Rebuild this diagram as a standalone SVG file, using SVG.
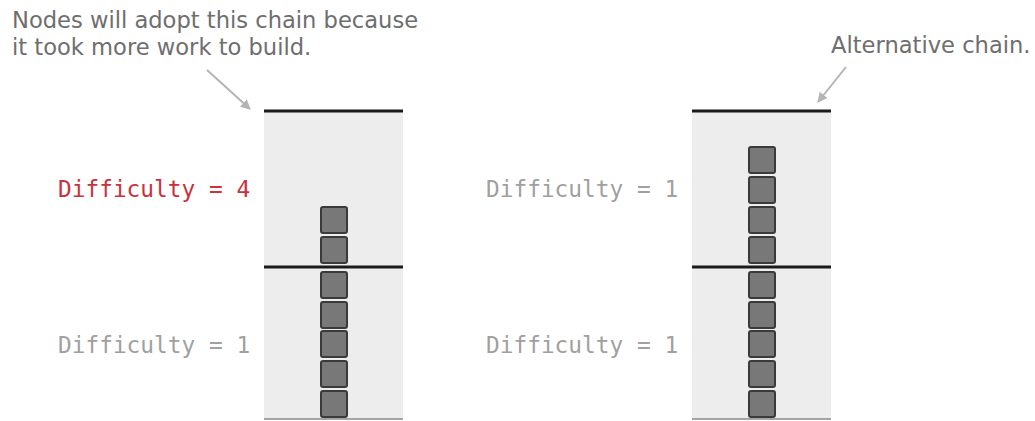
<svg xmlns="http://www.w3.org/2000/svg" width="1035" height="421" viewBox="0 0 1035 421">
  <style>
    .note { font-family: "DejaVu Sans", "Liberation Sans", sans-serif; font-size: 22.6px; fill: #6e6e6e; }
    .diff { font-family: "DejaVu Sans Mono", "Liberation Mono", monospace; font-size: 22.8px; fill: #a0a0a0; }
    .diff.hot { fill: #c8323a; }
    .col { fill: #ededed; }
    .rule { stroke: #1a1a1a; stroke-width: 3; }
    .base { stroke: #8a8a8a; stroke-width: 1.5; }
    .blk { fill: #787878; stroke: #3a3a3a; stroke-width: 2; }
    .ptr { stroke: #b4b4b4; stroke-width: 2; fill: none; }
  </style>
  <defs>
    <marker id="head" viewBox="0 0 10 10" refX="9" refY="5" markerWidth="5" markerHeight="5" orient="auto" markerUnits="strokeWidth">
      <path d="M0,0 L10,5 L0,10 Z" fill="#b4b4b4"/>
    </marker>
    <rect id="block" width="26" height="26" rx="2"/>
  </defs>

  <!-- annotations -->
  <g id="note-main">
    <text class="note" x="12" y="28">Nodes will adopt this chain because</text>
    <text class="note" x="12" y="55">it took more work to build.</text>
  </g>
  <g id="note-alt">
    <text class="note" x="831" y="53">Alternative chain.</text>
  </g>

  <!-- main chain column -->
  <g id="chain-main">
    <rect class="col" x="264" y="111" width="139" height="308"/>
    <line class="rule" x1="264" y1="111" x2="403" y2="111"/>
    <line class="rule" x1="264" y1="267" x2="403" y2="267"/>
    <line class="base" x1="264" y1="419" x2="403" y2="419"/>
    <g class="blk">
      <use href="#block" x="321" y="207"/>
      <use href="#block" x="321" y="237"/>
      <use href="#block" x="321" y="272"/>
      <use href="#block" x="321" y="302"/>
      <use href="#block" x="321" y="331"/>
      <use href="#block" x="321" y="361"/>
      <use href="#block" x="321" y="391"/>
    </g>
  </g>

  <!-- alternative chain column -->
  <g id="chain-alt">
    <rect class="col" x="692" y="111" width="139" height="308"/>
    <line class="rule" x1="692" y1="111" x2="831" y2="111"/>
    <line class="rule" x1="692" y1="267" x2="831" y2="267"/>
    <line class="base" x1="692" y1="419" x2="831" y2="419"/>
    <g class="blk">
      <use href="#block" x="749" y="147"/>
      <use href="#block" x="749" y="177"/>
      <use href="#block" x="749" y="207"/>
      <use href="#block" x="749" y="237"/>
      <use href="#block" x="749" y="272"/>
      <use href="#block" x="749" y="302"/>
      <use href="#block" x="749" y="331"/>
      <use href="#block" x="749" y="361"/>
      <use href="#block" x="749" y="391"/>
    </g>
  </g>

  <!-- difficulty labels -->
  <g id="labels">
    <text class="diff hot" x="58" y="197">Difficulty = 4</text>
    <text class="diff" x="58" y="353">Difficulty = 1</text>
    <text class="diff" x="486" y="197">Difficulty = 1</text>
    <text class="diff" x="486" y="353">Difficulty = 1</text>
  </g>

  <!-- pointers -->
  <g id="connectors">
    <line class="ptr" x1="207" y1="70" x2="250" y2="109" marker-end="url(#head)"/>
    <line class="ptr" x1="846" y1="67" x2="818" y2="102" marker-end="url(#head)"/>
  </g>
</svg>
